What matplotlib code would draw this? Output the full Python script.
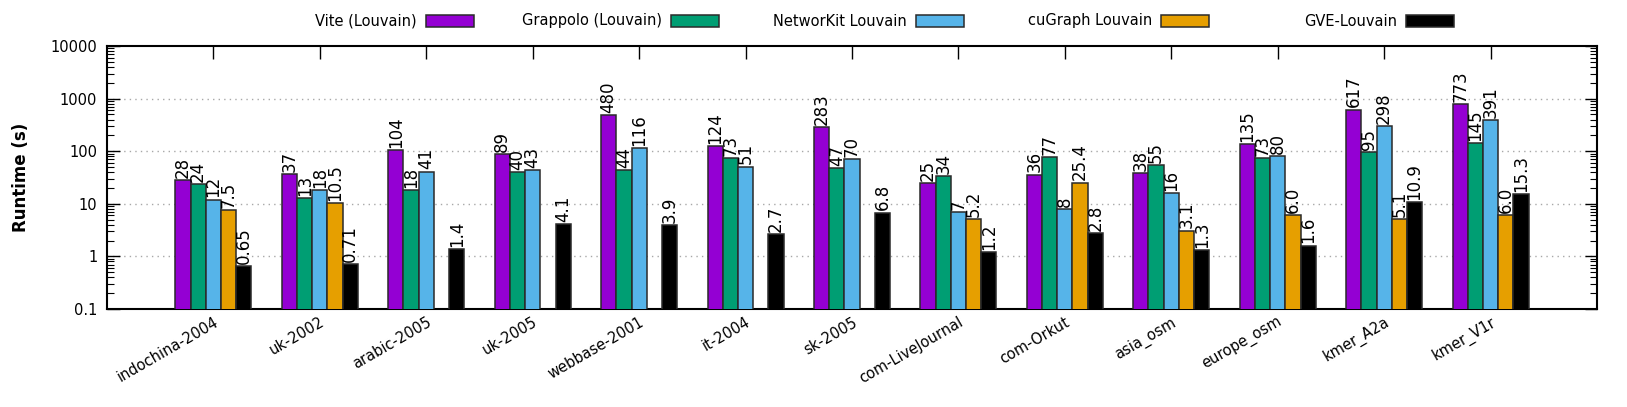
import matplotlib
matplotlib.use("Agg")
import matplotlib.pyplot as plt
import matplotlib.patches as mpatches
from matplotlib.ticker import LogLocator, FixedLocator, NullFormatter
import numpy as np

plt.rcParams['font.family'] = ['DejaVu Sans']

graphs = ["indochina-2004", "uk-2002", "arabic-2005", "uk-2005", "webbase-2001",
          "it-2004", "sk-2005", "com-LiveJournal", "com-Orkut", "asia_osm",
          "europe_osm", "kmer_A2a", "kmer_V1r"]

vite      = [28, 37, 104, 89, 480, 124, 283, 25, 36, 38, 135, 617, 773]
grappolo  = [24, 13, 18, 40, 44, 73, 47, 34, 77, 55, 73, 95, 145]
networkit = [12, 18, 41, 43, 116, 51, 70, 7, 8, 16, 80, 298, 391]
cugraph   = [7.5, 10.5, None, None, None, None, None, 5.2, 25.4, 3.1, 6.0, 5.1, 6.0]
gve       = [0.65, 0.71, 1.4, 4.1, 3.9, 2.7, 6.8, 1.2, 2.8, 1.3, 1.6, 10.9, 15.3]

series_names = ["Vite (Louvain)", "Grappolo (Louvain)", "NetworKit Louvain",
                "cuGraph Louvain", "GVE-Louvain"]
series_vals = [vite, grappolo, networkit, cugraph, gve]
series_fmt = ["{:g}", "{:g}", "{:g}", "{:.1f}", "{:g}"]
colors = ["#9400D3", "#009E73", "#56B4E9", "#E69F00", "#000000"]

W, H = 1627, 407
fig = plt.figure(figsize=(W / 100, H / 100), dpi=100)
ax = fig.add_axes([107 / W, 1 - 309 / H, (1597 - 107) / W, (309 - 46) / H])

fs = 10.5
vfs = 12
bw = 0.143
x = np.arange(len(graphs))
for i, (name, vals, fmt, c) in enumerate(zip(series_names, series_vals, series_fmt, colors)):
    off = (i - 2) * bw
    for xi, v in zip(x, vals):
        if v is None:
            continue
        ax.bar(xi + off, v, width=bw, color=c, edgecolor="#2a2a2a", linewidth=1.1, zorder=3)
        ax.text(xi + off, v * 1.1, fmt.format(v), rotation=90, ha="center", va="bottom",
                fontsize=vfs, zorder=4)

ax.set_yscale("log")
ax.set_ylim(0.1, 10000)
ax.set_xlim(-1, len(graphs))

ax.yaxis.set_major_locator(FixedLocator([0.1, 1, 10, 100, 1000, 10000]))
ax.set_yticklabels(["0.1", "1", "10", "100", "1000", "10000"], fontsize=fs)
ax.yaxis.set_minor_locator(LogLocator(base=10, subs=np.arange(2, 10), numticks=20))
ax.yaxis.set_minor_formatter(NullFormatter())

ax.set_xticks(x)
ax.set_xticklabels(graphs, rotation=30, ha="right", va="top", rotation_mode="anchor",
                   fontsize=fs)

ax.tick_params(axis="y", which="major", direction="in", length=9, width=1.0,
               left=True, right=True, pad=7)
ax.tick_params(axis="y", which="minor", direction="in", length=5, width=0.8,
               left=True, right=True)
ax.tick_params(axis="x", which="major", direction="in", length=9, width=1.0,
               top=True, bottom=True, pad=4)

for s in ax.spines.values():
    s.set_linewidth(1.5)

for yv in [1, 10, 100, 1000]:
    ax.axhline(yv, color="#a8a8a8", linewidth=1.0, linestyle=(0, (1, 3)), zorder=1)

ax.set_ylabel("Runtime (s)", fontsize=12, fontweight="bold")
ax.yaxis.set_label_coords(-0.052, 0.5)

# legend across the top
box_w, box_h = 48, 11
for i, (name, c) in enumerate(zip(series_names, colors)):
    right = 474 + 245 * i
    left = right - box_w
    yc = 21
    fig.patches.append(mpatches.Rectangle((left / W, 1 - (yc + box_h / 2) / H), box_w / W, box_h / H,
                                          transform=fig.transFigure, facecolor=c,
                                          edgecolor="#2a2a2a", linewidth=1.1))
    fig.text((left - 9) / W, 1 - yc / H, name, ha="right", va="center", fontsize=fs)

fig.savefig("out.png", dpi=100)
